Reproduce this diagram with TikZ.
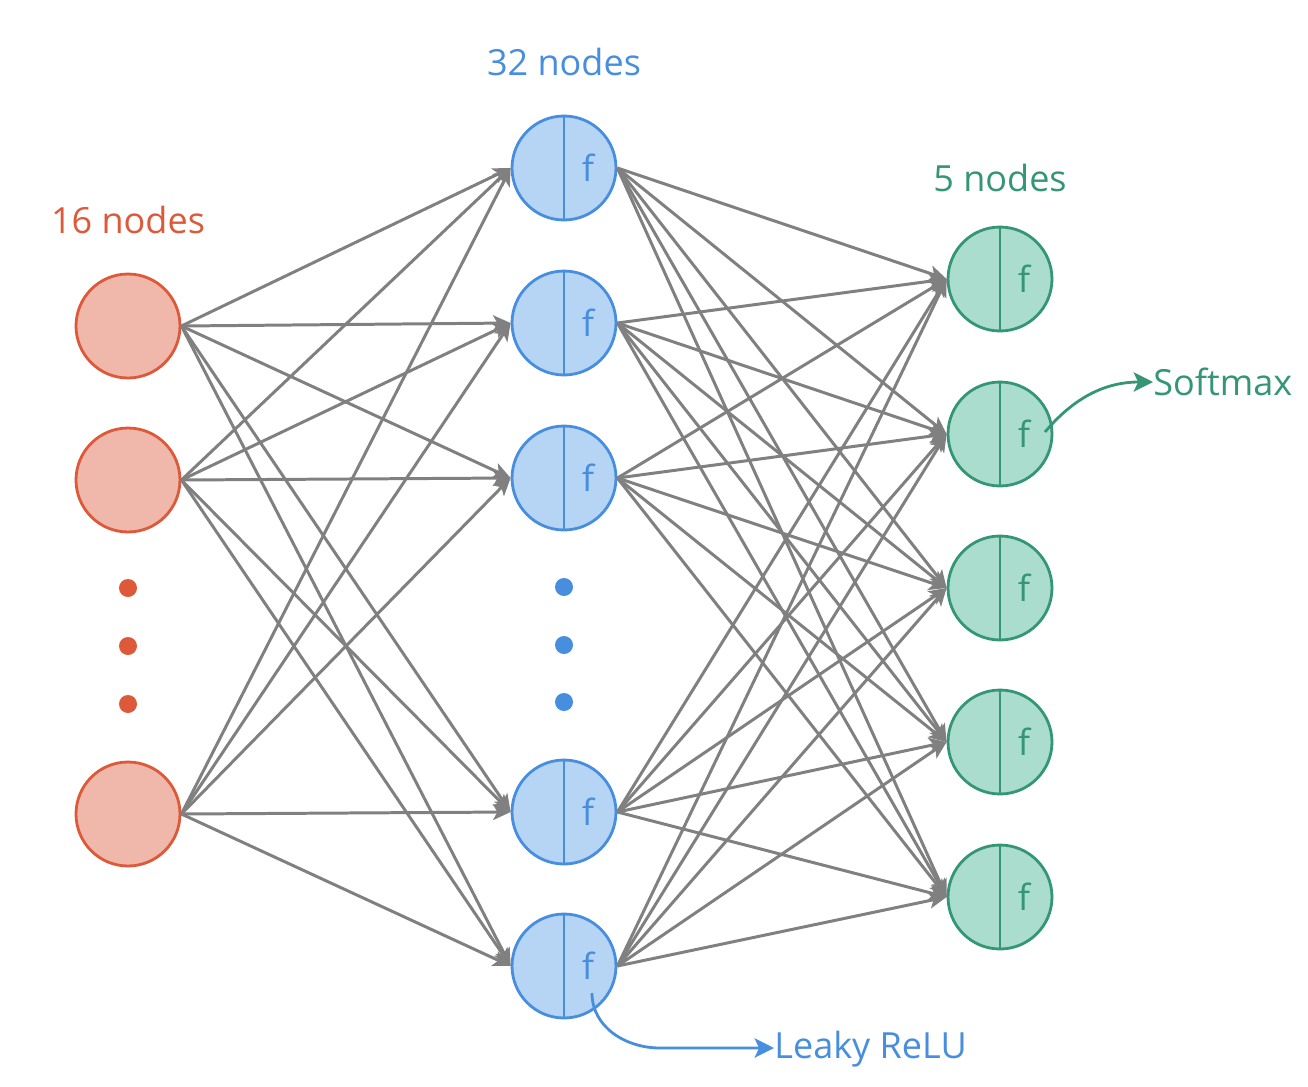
\documentclass[tikz,border=0pt]{standalone}
\usepackage{fontspec}
\setmainfont{Open Sans}
\usetikzlibrary{arrows.meta}
\usetikzlibrary{calc}

\definecolor{inline}{RGB}{222,88,58}
\definecolor{infill}{RGB}{240,184,170}
\definecolor{hidline}{RGB}{72,142,222}
\definecolor{hidfill}{RGB}{182,213,245}
\definecolor{outline}{RGB}{52,150,116}
\definecolor{outfill}{RGB}{170,221,206}
\definecolor{linkgray}{RGB}{128,128,128}

\begin{document}
\begin{tikzpicture} [x=0.02cm, y=-0.02cm,
  neuron/.style={circle, minimum size=2.08cm, inner sep=0pt, line width=1.6pt},
  innode/.style={neuron, draw=inline, fill=infill},
  hidnode/.style={neuron, draw=hidline, fill=hidfill},
  outnode/.style={neuron, draw=outline, fill=outfill},
  dot/.style={circle, minimum size=0.36cm, inner sep=0pt},
  ftext/.style={font=\fontsize{20.5}{24}\selectfont, inner sep=0pt},
  layertext/.style={font=\fontsize{20.5}{24}\selectfont, anchor=base, inner sep=0pt},
  link/.style={draw=linkgray, line width=1.7pt, -{Stealth[length=10pt, width=9pt, inset=2.5pt]}},
  note/.style={line width=1.6pt, -{Stealth[length=11pt, width=11pt, inset=2.5pt]}}]
\useasboundingbox (0,0) rectangle (1308,1086);

% layers
\foreach \n/\y in {1/326, 2/480, 3/814} \node[innode] (i\n) at (128,\y) {};
\foreach \n/\y in {1/168, 2/323, 3/478, 4/812, 5/966} \node[hidnode] (h\n) at (564,\y) {};
\foreach \n/\y in {1/279, 2/434, 3/588, 4/742, 5/897} \node[outnode] (o\n) at (1000,\y) {};

% split lines and f
\foreach \n in {1,...,5} {
  \draw[hidline, line width=1.6pt] (h\n.north) -- (h\n.south);
  \node[ftext, text=hidline] (hf\n) at ($(h\n)+(24,0)$) {f};
  \draw[outline, line width=1.6pt] (o\n.north) -- (o\n.south);
  \node[ftext, text=outline] (of\n) at ($(o\n)+(24,0)$) {f};
}

% dots
\foreach \n/\y in {1/588, 2/646, 3/704} \node[dot, fill=inline] (idot\n) at (128,\y) {};
\foreach \n/\y in {1/587, 2/645, 3/702} \node[dot, fill=hidline] (hdot\n) at (564,\y) {};

% connections
\foreach \a in {1,2,3}
  \foreach \b in {1,...,5}
    \draw[link] (i\a.east) -- (h\b.west);
\foreach \a in {1,...,5}
  \foreach \b in {1,...,5}
    \draw[link] (h\a.east) -- (o\b.west);

% labels
\node[layertext, text=inline] (inlabel) at (128,233) {16 nodes};
\node[layertext, text=hidline] (hidlabel) at (564,75) {32 nodes};
\node[layertext, text=outline] (outlabel) at (1000,191) {5 nodes};

% activations
\node[layertext, text=outline, anchor=base west] (softmax) at (1153,395) {Softmax};
\coordinate (smstart) at (1045,432);
\draw[note, outline] (smstart) to[out=50, in=180] (softmax.west |- 0,382);
\node[layertext, text=hidline, anchor=base west] (relu) at (774,1058) {Leaky ReLU};
\coordinate (relustart) at (592,993);
\draw[note, hidline] (relustart) to[out=-90, in=180] (660,1048) -- (relu.west |- 0,1048);
\end{tikzpicture}
\end{document}
